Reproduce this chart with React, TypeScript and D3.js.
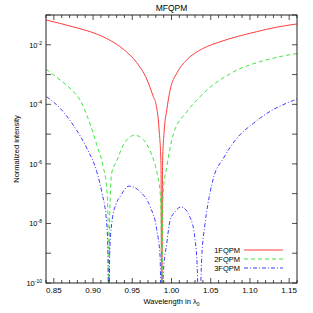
import React from 'react';
import * as d3 from 'd3';

// wavelength (in lambda0) and normalized intensity
const wl1 = [0.84, 0.8748, 0.9047, 0.9174, 0.9386, 0.9557, 0.9684, 0.9769, 0.9803, 0.9845, 0.9866, 0.9876,
  0.9886, 0.9905, 0.994, 0.9982, 1.0067, 1.0195, 1.0406, 1.0619, 1.0829, 1.1085, 1.1343, 1.1598];
const fqpm1 = [6.8e-2, 3.98e-2, 2.29e-2, 1.62e-2, 7.1e-3, 2.5e-3, 7.1e-4, 1.8e-4, 1.0e-4, 1.1e-5, 1e-6, 1e-12,
  1e-6, 1.1e-5, 6.5e-5, 3.0e-4, 1.1e-3, 3.1e-3, 7.6e-3, 1.26e-2, 1.86e-2, 2.75e-2, 3.9e-2, 5.0e-2];

const wl2 = [0.84, 0.8579, 0.8748, 0.8834, 0.8919, 0.9003, 0.9047, 0.9131, 0.9174, 0.919, 0.92, 0.9212,
  0.9238, 0.9302, 0.9386, 0.9493, 0.9522, 0.9641, 0.9748, 0.9812, 0.9854, 0.9868, 0.9876, 0.9886, 0.9896,
  0.994, 1.0024, 1.0195, 1.0364, 1.045, 1.0619, 1.0832, 1.113, 1.1385, 1.1601];
const fqpm2 = [1.5e-3, 6.6e-4, 2.7e-4, 1.4e-4, 4.4e-5, 1.07e-5, 4.4e-6, 7.6e-7, 1.6e-7, 1.6e-8, 1e-12, 1.6e-8,
  5e-7, 1.26e-6, 4.4e-6, 8.7e-6, 9.3e-6, 6.5e-6, 2.0e-6, 5.5e-7, 1.17e-7, 1.6e-8, 1e-12, 1.6e-8, 1.35e-7,
  8.1e-7, 1e-5, 5.6e-5, 1.8e-4, 3.0e-4, 6.6e-4, 1.4e-3, 2.7e-3, 4.0e-3, 5.1e-3];

const wl3 = [0.8409, 0.8579, 0.8748, 0.8919, 0.9047, 0.911, 0.9174, 0.919, 0.92, 0.9212, 0.9238, 0.9293,
  0.9344, 0.9459, 0.9599, 0.9727, 0.9812, 0.9854, 0.9876, 0.9896, 0.994, 0.9982, 1.0045, 1.0122, 1.0237,
  1.0301, 1.033, 1.0345, 1.0386, 1.0428, 1.0492, 1.0534, 1.0662, 1.0832, 1.1044, 1.1257, 1.147, 1.1598];
const fqpm3 = [1.8e-4, 7.4e-5, 2.0e-5, 3.4e-6, 5.5e-7, 1.17e-7, 1e-8, 1e-9, 1e-12, 1e-9, 1e-8, 4.5e-8,
  7.9e-8, 1.8e-7, 1.17e-7, 3.7e-8, 6.2e-9, 7.8e-10, 1e-12, 2.1e-10, 2.2e-9, 1.26e-8, 2.5e-8, 3.6e-8, 1.6e-8,
  2.8e-9, 2.5e-10, 1e-12, 7.8e-10, 1.0e-8, 1.1e-7, 3.3e-7, 1.55e-6, 7.2e-6, 2.3e-5, 5.8e-5, 1.1e-4, 1.5e-4];

const seriesNames = ['1FQPM', '2FQPM', '3FQPM'];
const xTickLabels = ['0.85', '0.90', '0.95', '1.00', '1.05', '1.10', '1.15'];
const yLabelExps = [-10, -8, -6, -4, -2];

const colors = ['#ff3c3c', '#3ce63c', '#3c3cff'];
const dashes = ['none', '4,3', '4,2,1,2'];
const font = '"Liberation Sans", Arial, sans-serif';

const App = () => {
  const L = 46, R = 297, T = 15, B = 283;
  const x = d3.scaleLinear().domain([0.84, 1.16]).range([L, R]);
  const y = d3.scaleLog().domain([1e-10, 1e-1]).range([B, T]);

  const series = [
    wl1.map((w, i) => [w, fqpm1[i]]),
    wl2.map((w, i) => [w, fqpm2[i]]),
    wl3.map((w, i) => [w, fqpm3[i]]),
  ] as [number, number][][];

  const line = d3.line<[number, number]>()
    .x(d => x(d[0]))
    .y(d => y(d[1]))
    .curve(d3.curveMonotoneX);

  const minorX = x.ticks(32);
  const majorX = xTickLabels.map(Number);
  const decades = d3.range(-10, 0).map(e => Math.pow(10, e));

  return (
    <svg width={313} height={313} style={{ position: 'absolute', left: 0, top: 0, background: '#fff' }}
      fontFamily={font}>
      <defs>
        <clipPath id="plot"><rect x={L} y={T} width={R - L} height={B - T} /></clipPath>
      </defs>

      <text x={(L + R) / 2} y={11} textAnchor="middle" fontSize={8.5}>MFQPM</text>

      <g clipPath="url(#plot)">
        {series.map((s, i) => (
          <path key={i} d={line(s) || ''} fill="none" stroke={colors[i]} strokeWidth={1}
            strokeDasharray={dashes[i]} />
        ))}
      </g>

      {/* frame and ticks */}
      <rect x={L} y={T} width={R - L} height={B - T} fill="none" stroke="#222" strokeWidth={1} />
      <g stroke="#222" strokeWidth={0.8}>
        {minorX.map(v => {
          const len = majorX.some(m => Math.abs(m - v) < 1e-6) ? 5 : 3;
          return (
            <g key={v}>
              <line x1={x(v)} x2={x(v)} y1={B} y2={B - len} />
              <line x1={x(v)} x2={x(v)} y1={T} y2={T + len} />
            </g>
          );
        })}
        {decades.map(v => (
          <g key={v}>
            <line x1={L} x2={L + 5} y1={y(v)} y2={y(v)} />
            <line x1={R} x2={R - 5} y1={y(v)} y2={y(v)} />
          </g>
        ))}
      </g>

      {xTickLabels.map(t => (
        <text key={t} x={x(Number(t))} y={293} textAnchor="middle" fontSize={8}>{t}</text>
      ))}
      {yLabelExps.map(e => (
        <text key={e} x={42} y={y(Math.pow(10, e)) + 3} textAnchor="end" fontSize={7.5}>
          10<tspan dy={-3} fontSize={5}>{String(e)}</tspan>
        </text>
      ))}

      <text x={(L + R) / 2} y={304} textAnchor="middle" fontSize={7.5}>
        Wavelength in λ<tspan dy={2} fontSize={5}>0</tspan>
      </text>
      <text transform={`translate(19,${(T + B) / 2}) rotate(-90)`} textAnchor="middle" fontSize={7.5}>
        Normalized intensity
      </text>

      {/* legend */}
      {seriesNames.map((n, i) => {
        const ly = 250 + i * 9;
        return (
          <g key={n}>
            <text x={240} y={ly + 2.5} textAnchor="end" fontSize={7.5}>{n}</text>
            <line x1={244} x2={283} y1={ly} y2={ly} stroke={colors[i]} strokeWidth={1}
              strokeDasharray={dashes[i]} />
          </g>
        );
      })}
    </svg>
  );
};

export default App;
